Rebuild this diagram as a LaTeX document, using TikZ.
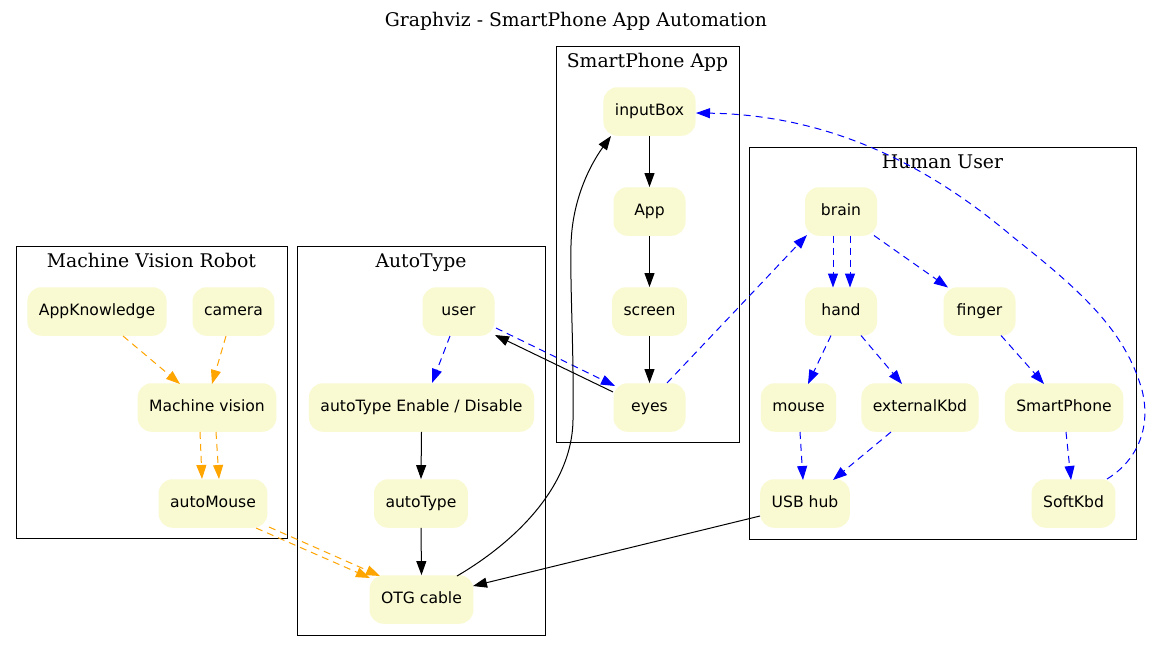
\documentclass[tikz,border=0pt]{standalone}
\usepackage{fontspec}
\setmainfont{DejaVu Serif}
\newfontfamily\nodefont{DejaVu Sans}
\usetikzlibrary{arrows.meta,calc}
\definecolor{nfill}{HTML}{FAFAD2}
\definecolor{eorange}{HTML}{FFA500}
\definecolor{eblue}{HTML}{0000FF}
\begin{document}
\begin{tikzpicture}[x=1pt,y=-1pt,
  box/.style={fill=nfill, draw=none, rounded corners=14pt, minimum width=72pt,
    minimum height=48.5pt, inner xsep=11.5pt, text height=11.4pt, text depth=3.7pt,
    font=\nodefont\fontsize{15.6}{18}\selectfont},
  cluster/.style={draw=black, line width=1pt},
  clabel/.style={font=\fontsize{18.8}{21}\selectfont, anchor=base, inner sep=0pt},
  sedge/.style={-{Triangle[length=14pt,width=10pt]}, line width=1pt, draw=black},
  bedge/.style={sedge, draw=eblue, dash pattern=on 7pt off 5pt},
  oedge/.style={sedge, draw=eorange, dash pattern=on 7pt off 5pt},
]
\fill[white] (0,0) rectangle (1152,651);
\useasboundingbox (0,0) rectangle (1152,651);

% title
\node[clabel] (title) at (576,26) {Graphviz - SmartPhone App Automation};

% clusters
\draw[cluster] (16,246) rectangle (287,538);
\draw[cluster] (297,246) rectangle (545,635);
\draw[cluster] (556,46) rectangle (739,442);
\draw[cluster] (749,147) rectangle (1136,539);
\node[clabel] (lmv) at (151.5,267) {Machine Vision Robot};
\node[clabel] (lat) at (421,267) {AutoType};
\node[clabel] (lsa) at (647.5,67.5) {SmartPhone App};
\node[clabel] (lhu) at (942.5,168) {Human User};

% nodes
\node[box] (AppKnowledge) at (97,311.5) {AppKnowledge};
\node[box] (camera) at (233.5,311.5) {camera};
\node[box] (MV) at (207,407.5) {Machine vision};
\node[box] (autoMouse) at (213,503.5) {autoMouse};
\node[box] (user) at (458.5,311.5) {user};
\node[box] (ATE) at (421.5,407.5) {autoType Enable / Disable};
\node[box] (autoType) at (421,503.5) {autoType};
\node[box] (OTG) at (421.5,599.5) {OTG cable};
\node[box] (inputBox) at (649.5,111.5) {inputBox};
\node[box] (App) at (649.5,211.5) {App};
\node[box] (screen) at (649.5,311.5) {screen};
\node[box] (eyes) at (649.5,407.5) {eyes};
\node[box] (brain) at (841,211.5) {brain};
\node[box] (hand) at (841,311.5) {hand};
\node[box] (finger) at (979.5,311.5) {finger};
\node[box] (mouse) at (798.5,407.5) {mouse};
\node[box] (externalKbd) at (920,407.5) {externalKbd};
\node[box] (SmartPhone) at (1064,407.5) {SmartPhone};
\node[box] (USBhub) at (805,503.5) {USB hub};
\node[box] (SoftKbd) at (1073.5,503.5) {SoftKbd};

% orange edges
\draw[oedge] ($(AppKnowledge)+(26,24.5)$) -- ($(MV)+(-27,-23.5)$);
\draw[oedge] ($(camera)+(-7.5,24.5)$) -- ($(MV)+(5,-23.5)$);
\draw[oedge] ($(MV)+(-7,24.5)$) -- ($(autoMouse)+(-11,-24.5)$);
\draw[oedge] ($(MV)+(9,24.5)$) -- ($(autoMouse)+(6,-24.5)$);
\draw[oedge] ($(autoMouse)+(43,24.5)$) -- ($(OTG)+(-51.5,-21.5)$);
\draw[oedge] ($(autoMouse)+(56,23.5)$) -- ($(OTG)+(-41.5,-23.5)$);

% blue edges
\draw[bedge] ($(user)+(-8.5,24.5)$) -- ($(ATE)+(10.5,-24.5)$);
\draw[bedge] ($(user)+(37.5,16.5)$) -- ($(eyes)+(-34.5,-21.5)$);
\draw[bedge] ($(eyes)+(17.5,-24.5)$) -- ($(brain)+(-34,23.5)$);
\draw[bedge] ($(brain)+(-8,24)$) -- ($(hand)+(-8,-24)$);
\draw[bedge] ($(brain)+(9,24)$) -- ($(hand)+(9,-24)$);
\draw[bedge] ($(brain)+(33,24)$) -- ($(finger)+(-31.5,-24)$);
\draw[bedge] ($(hand)+(-10,24)$) -- ($(mouse)+(9.5,-23.5)$);
\draw[bedge] ($(hand)+(20,24)$) -- ($(externalKbd)+(-18,-23.5)$);
\draw[bedge] ($(finger)+(21.5,24)$) -- ($(SmartPhone)+(-20,-23.5)$);
\draw[bedge] ($(mouse)+(1.5,24.5)$) -- ($(USBhub)+(-2,-23.5)$);
\draw[bedge] ($(externalKbd)+(-29,24.5)$) -- ($(USBhub)+(28,-23.5)$);
\draw[bedge] ($(SmartPhone)+(2,24.5)$) -- ($(SoftKbd)+(-2.5,-23.5)$);
\draw[bedge] ($(SoftKbd)+(33.5,-24.5)$)
  .. controls (1135,462) and (1152,430) .. (1142,390)
  .. controls (1125,330) and (1080,290) .. (1013,237)
  .. controls (940,175) and (840,115) .. ($(inputBox)+(46.5,1.5)$);

% black edges
\draw[sedge] (inputBox.south) -- (App.north);
\draw[sedge] (App.south) -- (screen.north);
\draw[sedge] (screen.south) -- (eyes.north);
\draw[sedge] ($(eyes)+(-36.5,-15.5)$) -- ($(user)+(36.5,23.5)$);
\draw[sedge] (ATE.south) -- (autoType.north);
\draw[sedge] (autoType.south) -- (OTG.north);
\draw[sedge] ($(OTG)+(35.5,-23.5)$)
  .. controls (510,545) and (572,490) .. (573,420)
  .. controls (574,350) and (570,290) .. (571,245)
  .. controls (572,200) and (590,165) .. ($(inputBox)+(-38.5,24.5)$);
\draw[sedge] ($(USBhub)+(-45,12.5)$) -- ($(OTG)+(51.5,-13.5)$);
\end{tikzpicture}
\end{document}
